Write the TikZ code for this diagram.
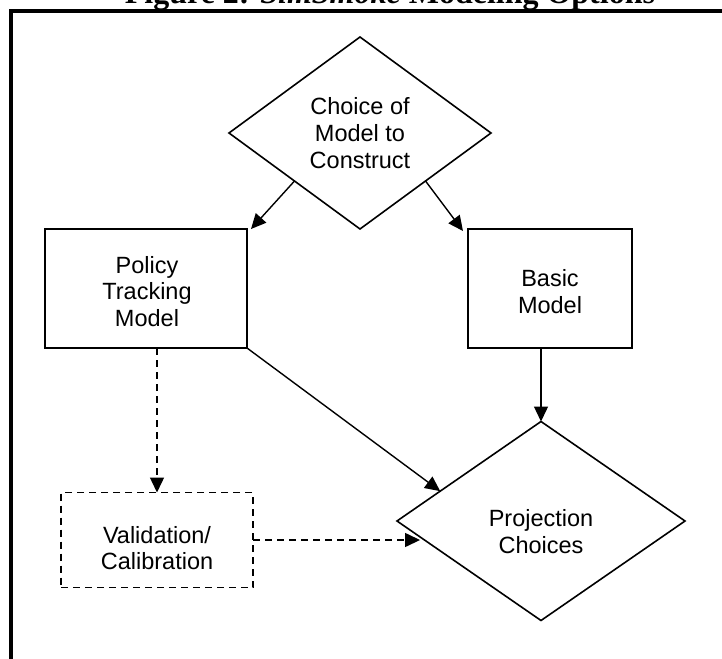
\documentclass[tikz,border=0pt]{standalone}
\usepackage{fontspec}
\setmainfont{Liberation Sans}
\newfontfamily\titlefont{Liberation Serif}
\usetikzlibrary{shapes.geometric,arrows.meta,calc}
\begin{document}
\begin{tikzpicture}[x=1pt,y=-1pt,
  every node/.style={inner sep=0pt,outer sep=0pt},
  lbl/.style={align=center,font=\fontsize{23.5}{26.7}\selectfont},
  boxs/.style={draw,line width=1.6pt,rectangle},
  dia/.style={draw,line width=1.6pt,diamond},
  flow/.style={line width=1.4pt,-{Triangle[length=15pt,width=14pt]}},
  dflow/.style={flow,dash pattern=on 7pt off 5pt}]
\useasboundingbox (0,0) rectangle (722,658);

% heading and outer frame
\node[anchor=base,font=\titlefont\bfseries\fontsize{32}{36}\selectfont] (title) at (390,4)
  {Figure 2: \textit{SimSmoke} Modeling Options};
\draw[line width=4pt] (740,11.5) -- (10.5,11.5) -- (10.5,680);

% shapes
\node[dia,minimum width=262pt,minimum height=192pt] (choice) at (360,133) {};
\node[boxs,minimum width=202pt,minimum height=119pt] (policy) at (146,288.5) {};
\node[boxs,minimum width=164pt,minimum height=119pt] (basic) at (550,288.5) {};
\node[boxs,dash pattern=on 7pt off 5pt,minimum width=192pt,minimum height=95pt] (val) at (157,540) {};
\node[dia,minimum width=288pt,minimum height=199pt] (proj) at (541,521) {};

% labels
\node[lbl] (choicet) at (360,133) {Choice of\\Model to\\Construct};
\node[lbl] (policyt) at (147,291.5) {Policy\\Tracking\\Model};
\node[lbl] (basict) at (550,291.5) {Basic\\Model};
\node[lbl] (valt) at (157,548) {Validation/\\Calibration};
\node[lbl] (projt) at (541,531.5) {Projection\\Choices};

% connectors
\draw[flow] ($(choice.west)!0.5!(choice.south)$) -- ($(policy.north east)+(4,0)$);
\draw[flow] ($(choice.east)!0.5!(choice.south)$) -- ($(basic.north west)+(-5,2)$);
\draw[flow] (basic.south -| proj.north) -- (proj.north);
\draw[flow] (policy.south east) -- ($(proj.west)!0.3!(proj.north)$);
\draw[dflow] (policy.south -| val.north) -- (val.north);
\coordinate (pe) at ($(proj.west)!0.16!(proj.south)$);
\draw[dflow] (val.east) -- (val.east -| pe);
\end{tikzpicture}
\end{document}
